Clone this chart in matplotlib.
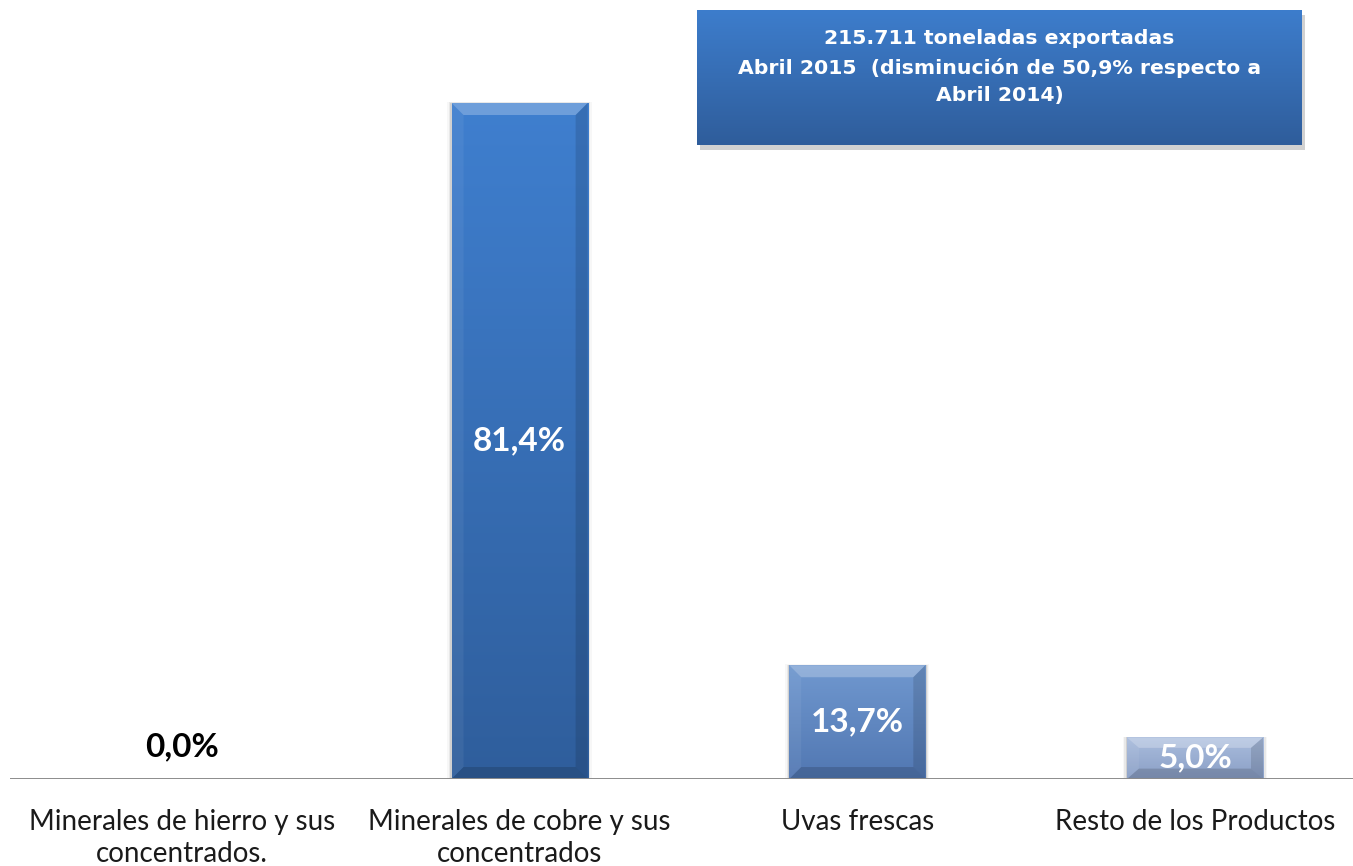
"""
Exportaciones abril 2015 - participación por producto
"""
import numpy as np
import matplotlib
matplotlib.use("Agg")
import matplotlib.pyplot as plt
from matplotlib.colors import LinearSegmentedColormap
from matplotlib.patches import Polygon, Rectangle

categories = [
    "Minerales de hierro y sus\nconcentrados.",
    "Minerales de cobre y sus\nconcentrados",
    "Uvas frescas",
    "Resto de los Productos",
]
shares = [0.0, 81.4, 13.7, 5.0]
share_labels = ["0,0%", "81,4%", "13,7%", "5,0%"]
# (top colour, bottom colour) per bar
bar_colors = [
    ("#3f7fcf", "#2f5e9c"),
    ("#3f7fcf", "#2f5e9c"),
    ("#7098cf", "#5177b2"),
    ("#aabddd", "#8a9fc6"),
]
box_text = ("215.711 toneladas exportadas\n"
            "Abril 2015  (disminución de 50,9% respecto a\n"
            "Abril 2014)")

W, H = 1353, 866
fig = plt.figure(figsize=(W / 100, H / 100), dpi=100)
ax = fig.add_axes([10 / W, 87 / H, 1343 / W, 769 / H])
ax.set_xlim(-0.509, 3.468)
ax.set_ylim(0, 92.6)
ax.axis("off")

bar_w = 0.403
bx = 12 / 337.7   # bevel size in x data units
by = 12 / 8.305   # bevel size in y data units


def bevel_bar(ax, patch, top, bottom):
    x0, y0 = patch.get_x(), patch.get_y()
    w, h = patch.get_width(), patch.get_height()
    if h <= 0:
        return
    cmap = LinearSegmentedColormap.from_list("g", [bottom, top])
    grad = np.linspace(0, 1, 256).reshape(-1, 1)
    im = ax.imshow(grad, extent=[x0, x0 + w, y0, y0 + h], origin="lower",
                   cmap=cmap, aspect="auto", zorder=3)
    im.set_clip_path(patch)
    ex = min(bx, w / 4)
    ey = min(by, h / 4)
    x1, y1 = x0 + w, y0 + h
    # top bevel
    ax.add_patch(Polygon([[x0, y1], [x1, y1], [x1 - ex, y1 - ey], [x0 + ex, y1 - ey]],
                         closed=True, fc="white", alpha=0.25, lw=0, zorder=4))
    # left bevel
    ax.add_patch(Polygon([[x0, y0], [x0, y1], [x0 + ex, y1 - ey], [x0 + ex, y0 + ey]],
                         closed=True, fc="white", alpha=0.06, lw=0, zorder=4))
    # right bevel
    ax.add_patch(Polygon([[x1, y0], [x1, y1], [x1 - ex, y1 - ey], [x1 - ex, y0 + ey]],
                         closed=True, fc="black", alpha=0.12, lw=0, zorder=4))
    # bottom bevel
    ax.add_patch(Polygon([[x0, y0], [x1, y0], [x1 - ex, y0 + ey], [x0 + ex, y0 + ey]],
                         closed=True, fc="black", alpha=0.15, lw=0, zorder=4))
    # soft shadow
    for i, a in enumerate([0.10, 0.06, 0.03]):
        d = (i + 1) * 0.004
        ax.add_patch(Rectangle((x0 - d, y0), w + 2 * d, h + d * 8,
                               fc="black", alpha=a, lw=0, zorder=2))


x = np.arange(len(categories))
bars = ax.bar(x, shares, width=bar_w, color="none", edgecolor="none", zorder=3)
for b, (top, bottom) in zip(bars, bar_colors):
    bevel_bar(ax, b, top, bottom)

ax.axhline(0, xmin=0, xmax=1, color="#8c8c8c", lw=1.4, zorder=5)

lab_font = ["Lato", "DejaVu Sans"]
for xi, v, s in zip(x, shares, share_labels):
    if v < 1:
        ax.text(xi, 3.9, s, ha="center", va="center", fontsize=24,
                fontweight="bold", color="black", family=lab_font, zorder=6)
    else:
        ax.text(xi, v / 2, s, ha="center", va="center", fontsize=24,
                fontweight="bold", color="white", family=lab_font, zorder=6)

for xi, c in zip(x, categories):
    ax.text(xi, -3.6, c, ha="center", va="top", fontsize=20, color="#1a1a1a",
            family=lab_font, linespacing=1.27, zorder=6)

# title box with gradient and shadow
bl, bb, bw, bh = 697 / W, (H - 145) / H, 605 / W, 135 / H
fig.patches.append(Rectangle((bl + 3 / W, bb - 5 / H), bw, bh, transform=fig.transFigure,
                             fc="black", alpha=0.18, lw=0, zorder=0))
bax = fig.add_axes([bl, bb, bw, bh], zorder=2)
bax.axis("off")
bcmap = LinearSegmentedColormap.from_list("b", ["#2f5d9b", "#3d7dcc"])
bax.imshow(np.linspace(0, 1, 256).reshape(-1, 1), origin="lower", cmap=bcmap,
           aspect="auto", extent=[0, 1, 0, 1])
bax.set_xlim(0, 1)
bax.set_ylim(0, 1)
bax.text(0.5, 0.575, box_text, ha="center", va="center", color="white", fontsize=14.7,
         fontweight="bold", family=["DejaVu Sans"], linespacing=1.58)

fig.savefig("out.png", dpi=100, facecolor="white")
